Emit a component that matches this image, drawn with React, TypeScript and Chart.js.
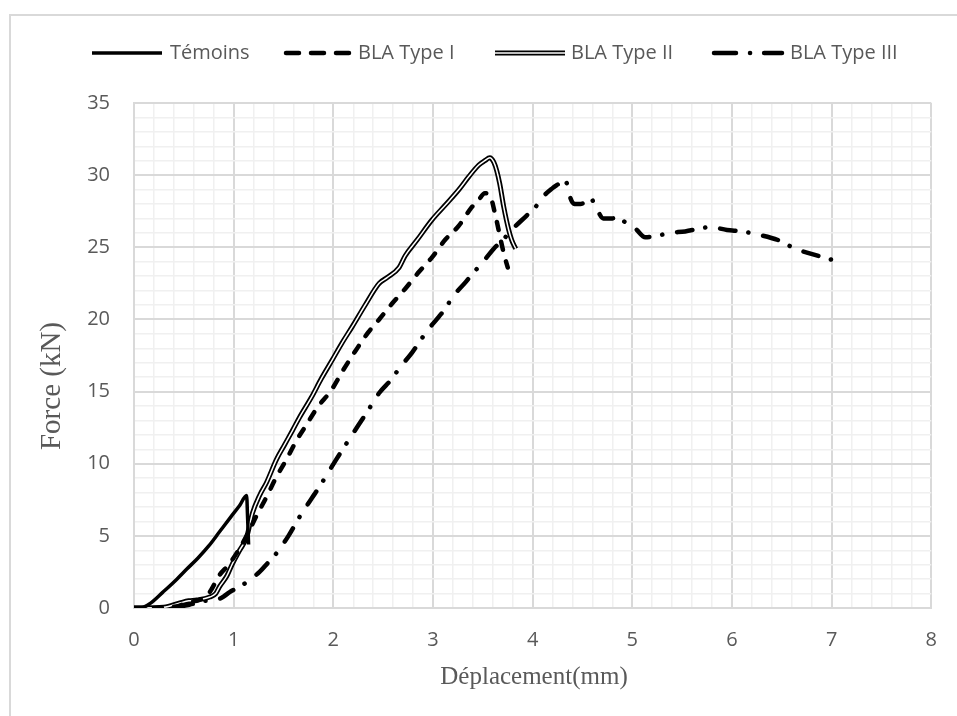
import React, { useEffect, useRef } from 'react';
import { Chart, registerables } from 'chart.js';

Chart.register(...registerables);

// ---- Data ----
const temoinsX = [0, 0.08, 0.16, 0.29, 0.43, 0.53, 0.64, 0.75, 0.86, 0.97, 1.06, 1.13, 1.14, 1.15];
const temoinsY = [0, 0.02, 0.3, 1.1, 2.0, 2.7, 3.45, 4.3, 5.3, 6.3, 7.1, 7.8, 6.2, 4.4];

const type1X = [0, 0.3, 0.45, 0.55, 0.65, 0.72, 0.76, 0.86, 0.95, 1.03, 1.13, 1.23, 1.33, 1.43, 1.53, 1.63, 1.73, 1.84, 1.98, 2.1, 2.23, 2.35, 2.46, 2.59, 2.73, 2.86, 2.99, 3.12, 3.26, 3.38, 3.46, 3.52, 3.57, 3.63, 3.68, 3.71, 3.75];
const type1Y = [0, 0.02, 0.15, 0.4, 0.55, 0.8, 1.1, 2.3, 3.0, 3.8, 5.0, 6.4, 7.7, 9.1, 10.3, 11.6, 12.7, 13.9, 15.1, 16.5, 17.9, 19.1, 20.0, 21.1, 22.2, 23.3, 24.3, 25.5, 26.5, 27.7, 28.3, 28.75, 28.6, 27.1, 25.5, 24.6, 23.6];

const type2X = [0, 0.3, 0.46, 0.55, 0.63, 0.76, 0.82, 0.86, 0.93, 0.99, 1.06, 1.13, 1.19, 1.26, 1.33, 1.43, 1.51, 1.59, 1.66, 1.78, 1.88, 1.99, 2.09, 2.19, 2.32, 2.46, 2.54, 2.66, 2.72, 2.84, 2.99, 3.12, 3.26, 3.36, 3.46, 3.52, 3.57, 3.61, 3.64, 3.67, 3.71, 3.76, 3.79, 3.83];
const type2Y = [0, 0.05, 0.35, 0.5, 0.55, 0.76, 1.0, 1.5, 2.2, 3.1, 4.0, 4.9, 6.6, 7.8, 8.7, 10.3, 11.3, 12.3, 13.2, 14.6, 15.9, 17.2, 18.4, 19.5, 21.0, 22.5, 22.9, 23.6, 24.4, 25.5, 26.9, 27.9, 29.0, 29.9, 30.7, 31.0, 31.2, 30.9, 30.3, 29.4, 27.8, 26.2, 25.5, 24.9];

const type3X = [0, 0.4, 0.6, 0.72, 0.82, 0.9, 0.96, 1.09, 1.26, 1.34, 1.43, 1.55, 1.66, 1.86, 2.03, 2.16, 2.34, 2.46, 2.59, 2.66, 2.79, 2.86, 2.93, 3.06, 3.13, 3.19, 3.33, 3.40, 3.48, 3.61, 3.70, 3.79, 3.94, 4.03, 4.09, 4.20, 4.28, 4.31, 4.35, 4.38, 4.42, 4.48, 4.54, 4.58, 4.64, 4.71, 4.80, 4.86, 4.90, 4.95, 5.03, 5.13, 5.25, 5.38, 5.53, 5.68, 5.78, 5.95, 6.10, 6.25, 6.50, 6.63, 6.77, 7.02];
const type3Y = [0, 0.05, 0.3, 0.5, 0.55, 0.8, 1.1, 1.6, 2.5, 3.1, 3.8, 5.0, 6.3, 8.4, 10.3, 11.7, 13.6, 14.9, 15.9, 16.6, 17.7, 18.4, 19.1, 20.2, 20.8, 21.5, 22.6, 23.2, 23.8, 24.9, 25.5, 26.2, 27.2, 27.8, 28.4, 29.1, 29.5, 29.7, 29.3, 28.4, 28.0, 28.0, 28.2, 28.4, 27.7, 27.0, 27.0, 27.1, 26.9, 26.6, 26.3, 25.7, 25.8, 26.0, 26.1, 26.3, 26.4, 26.2, 26.1, 25.9, 25.4, 24.9, 24.6, 24.1];

const seriesNames = ['Témoins', 'BLA Type I', 'BLA Type II', 'BLA Type III'];
const xTitle = 'Déplacement(mm)';
const yTitle = 'Force (kN)';
const xMin = 0, xMax = 8, xMinorStep = 0.2;
const yMin = 0, yMax = 35, yMinorStep = 1, yMajorStep = 5;

const toPts = (xs: number[], ys: number[]) => xs.map((x, i) => ({ x, y: ys[i] }));

const TEXT = '#595959';
const MAJOR = '#d9d9d9';
const MINOR = '#f0f0f0';
const SANS = '"Open Sans", sans-serif';
const SERIF = '"Liberation Serif", serif';

const DASH1 = [8, 12];
const DASH3 = [15.5, 13, 0.1, 15];

const isInt = (v: number) => Math.abs(v - Math.round(v)) < 1e-6;

const decorPlugin = {
  id: 'decor',
  beforeDraw(chart: any) {
    const ctx = chart.ctx;
    ctx.save();
    ctx.fillStyle = '#ffffff';
    ctx.fillRect(0, 0, chart.width, chart.height);
    ctx.strokeStyle = '#d9d9d9';
    ctx.lineWidth = 2;
    ctx.strokeRect(10, 15, 1200, 1200);
    ctx.restore();
  },
  afterDraw(chart: any) {
    const ctx = chart.ctx;
    ctx.save();
    ctx.fillStyle = TEXT;
    ctx.font = `29px ${SERIF}`;
    ctx.textAlign = 'center';
    ctx.textBaseline = 'middle';
    ctx.save();
    ctx.translate(52, 386);
    ctx.rotate(-Math.PI / 2);
    ctx.fillText(yTitle, 0, 0);
    ctx.restore();
    ctx.font = `25px ${SERIF}`;
    ctx.fillText(xTitle, 534, 677);

    const ly = 53;
    const items = [
      { x0: 92, x1: 162, tx: 170, kind: 0 },
      { x0: 284, x1: 354, tx: 358, kind: 1 },
      { x0: 495, x1: 565, tx: 571, kind: 2 },
      { x0: 712, x1: 782, tx: 790, kind: 3 },
    ];
    items.forEach((it, i) => {
      ctx.save();
      ctx.strokeStyle = '#000';
      ctx.beginPath();
      ctx.moveTo(it.x0, ly);
      ctx.lineTo(it.x1, ly);
      if (it.kind === 0) {
        ctx.lineWidth = 3.5;
        ctx.stroke();
      } else if (it.kind === 1) {
        ctx.lineWidth = 4.5;
        ctx.lineCap = 'round';
        ctx.setLineDash([13, 12]);
        ctx.lineDashOffset = -2;
        ctx.stroke();
      } else if (it.kind === 2) {
        ctx.lineWidth = 5;
        ctx.stroke();
        ctx.strokeStyle = '#fff';
        ctx.lineWidth = 1.5;
        ctx.stroke();
      } else {
        ctx.lineWidth = 4.5;
        ctx.lineCap = 'round';
        ctx.setLineDash([22, 14, 0.1, 14]);
        ctx.lineDashOffset = -2;
        ctx.stroke();
      }
      ctx.restore();
      ctx.fillStyle = TEXT;
      ctx.font = `20px ${SANS}`;
      ctx.textAlign = 'left';
      ctx.textBaseline = 'middle';
      ctx.fillText(seriesNames[i], it.tx, ly);
    });
    ctx.restore();
  },
};

export default function App() {
  const ref = useRef<HTMLCanvasElement>(null);
  useEffect(() => {
    if (!ref.current) return;
    const common = {
      showLine: true,
      pointRadius: 0,
      borderJoinStyle: 'round',
      cubicInterpolationMode: 'monotone',
    };
    const chart = new Chart(ref.current, {
      type: 'scatter',
      data: {
        datasets: [
          {
            ...common,
            label: seriesNames[0],
            data: toPts(temoinsX, temoinsY),
            borderColor: '#000',
            borderWidth: 3.5,
          },
          {
            ...common,
            label: seriesNames[1],
            data: toPts(type1X, type1Y),
            borderColor: '#000',
            borderWidth: 4.5,
            borderDash: DASH1,
            borderCapStyle: 'round',
          },
          {
            ...common,
            label: seriesNames[2] + ' inner',
            data: toPts(type2X, type2Y),
            borderColor: '#fff',
            borderWidth: 1.5,
          },
          {
            ...common,
            label: seriesNames[2],
            data: toPts(type2X, type2Y),
            borderColor: '#000',
            borderWidth: 5,
          },
          {
            ...common,
            label: seriesNames[3],
            data: toPts(type3X, type3Y),
            borderColor: '#000',
            borderWidth: 4.5,
            borderDash: DASH3,
            borderCapStyle: 'round',
          },
        ],
      },
      options: {
        animation: false,
        responsive: false,
        maintainAspectRatio: false,
        devicePixelRatio: 1,
        layout: { padding: { left: 0, top: 103, right: 22, bottom: 0 } },
        plugins: { legend: { display: false }, tooltip: { enabled: false } },
        scales: {
          x: {
            type: 'linear',
            min: xMin,
            max: xMax,
            afterFit: (s: any) => { s.height = 108; },
            ticks: {
              stepSize: xMinorStep,
              autoSkip: false,
              maxRotation: 0,
              padding: 20,
              color: TEXT,
              font: { family: SANS, size: 20 },
              callback: (v: any) => (isInt(Number(v)) ? String(Math.round(Number(v))) : ''),
            },
            grid: {
              drawTicks: false,
              color: (c: any) => (c.tick && isInt(c.tick.value) ? MAJOR : MINOR),
              lineWidth: (c: any) => (c.tick && isInt(c.tick.value) ? 2 : 1.5),
            },
            border: { display: true, color: MAJOR, width: 2 },
          },
          y: {
            type: 'linear',
            min: yMin,
            max: yMax,
            afterFit: (s: any) => { s.width = 134; },
            ticks: {
              stepSize: yMinorStep,
              autoSkip: false,
              padding: 24,
              color: TEXT,
              font: { family: SANS, size: 20 },
              callback: (v: any) => (Number(v) % yMajorStep === 0 ? String(v) : ''),
            },
            grid: {
              drawTicks: false,
              color: (c: any) => (c.tick && c.tick.value % yMajorStep === 0 ? MAJOR : MINOR),
              lineWidth: (c: any) => (c.tick && c.tick.value % yMajorStep === 0 ? 2 : 1.5),
            },
            border: { display: true, color: MAJOR, width: 2 },
          },
        },
      },
      plugins: [decorPlugin],
    } as any);
    return () => chart.destroy();
  }, []);
  return (
    <div style={{ position: 'absolute', left: 0, top: 0, width: 957, height: 716, overflow: 'hidden' }}>
      <canvas ref={ref} width={957} height={716} style={{ display: 'block' }} />
    </div>
  );
}
